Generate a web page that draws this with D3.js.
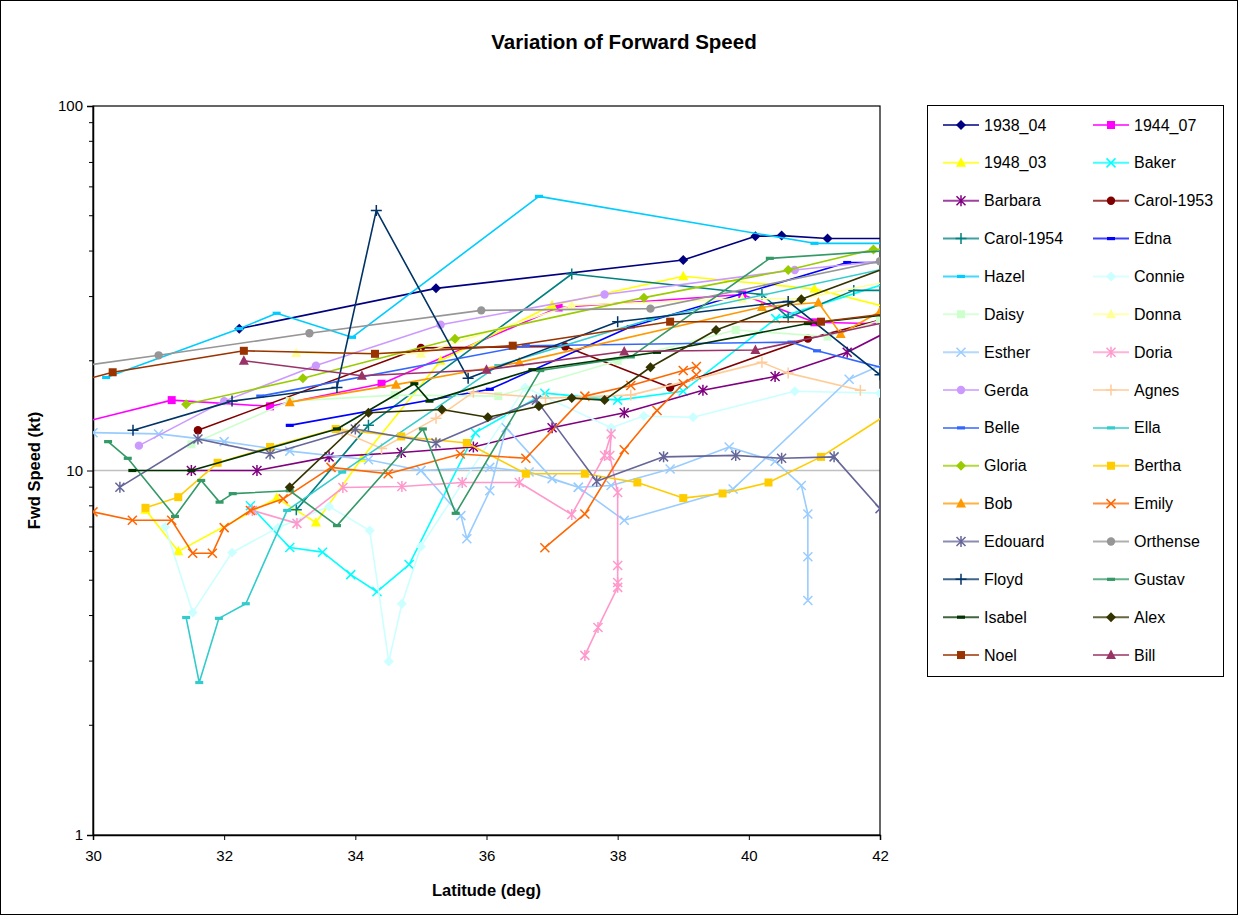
<!DOCTYPE html>
<html>
<head>
<meta charset="utf-8">
<script src="https://cdn.jsdelivr.net/npm/d3@7"></script>
<style>
  body { margin: 0; background: #fff; }
  svg { display: block; font-family: Arial, "Liberation Sans", sans-serif; }
</style>
</head>
<body>
<svg id="chart" width="1238" height="915"></svg>
<script>
// Axis ticks
const latTicks = [30, 32, 34, 36, 38, 40, 42];
const speedTicks = [1, 10, 100];

// Storm names, in plotting / legend order
const stormNames = ["1938_04", "1944_07", "1948_03", "Baker", "Barbara", "Carol-1953",
  "Carol-1954", "Edna", "Hazel", "Connie", "Daisy", "Donna", "Esther", "Doria", "Gerda",
  "Agnes", "Belle", "Ella", "Gloria", "Bertha", "Bob", "Emily", "Edouard", "Orthense",
  "Floyd", "Gustav", "Isabel", "Alex", "Noel", "Bill"];

// [latitude (deg), forward speed (kt)]; null breaks the line
const s1938_04 = [[32.23, 24.5], [35.23, 31.6], [39.0, 37.8], [40.1, 43.9], [40.5, 44.1], [41.2, 43.3], [42.5, 43.3]];
const s1944_07 = [[29.8, 13.5], [31.2, 15.6], [32.7, 15.0], [34.4, 17.3], [37.1, 28.0], [39.9, 30.4], [41.0, 25.5], [42.3, 25.2]];
const s1948_03 = [[30.8, 7.8], [31.3, 6.0], [32.8, 8.4], [33.4, 7.2], [34.1, 10.8], [35.3, 20.0], [37.0, 28.4], [39.0, 34.1], [41.0, 31.5], [42.3, 27.5]];
const sBaker = [[32.4, 8.0], [33.0, 6.15], [33.5, 5.97], [33.93, 5.18], [34.33, 4.65], [34.82, 5.52], [35.83, 12.7], [36.89, 16.3], [38.0, 15.6], [39.0, 16.5], [40.41, 26.1], [42.3, 33.5]];
const sBarbara = [[31.5, 10.0], [32.5, 10.0], [33.6, 10.9], [34.7, 11.2], [35.8, 11.6], [37.0, 13.1], [38.1, 14.4], [39.3, 16.6], [40.4, 18.1], [41.5, 21.1], [42.3, 25.0]];
const sCarol1953 = [[31.6, 12.9], [35.0, 21.7], [37.2, 21.9], [38.8, 16.9], [40.9, 23.0], [42.3, 26.7]];
const sCarol1954 = [[33.1, 7.8], [34.2, 13.3], [37.3, 34.6], [40.2, 30.4], [40.6, 26.3], [41.6, 31.2], [42.3, 31.2]];
const sEdna = [[33.0, 13.3], [36.05, 16.7], [38.2, 24.8], [41.5, 37.2], [42.3, 37.2]];
const sHazel = [[30.2, 18.0], [32.23, 24.5], [32.8, 27.0], [33.95, 23.2], [36.8, 56.5], [41.0, 42.0], [42.3, 42.0]];
const sConnie = [[31.1, 7.0], [31.52, 4.08], [32.12, 5.96], [32.82, 6.97], [33.6, 7.97], [34.22, 6.84], [34.51, 2.99], [34.71, 4.31], [35.0, 6.19], [36.59, 16.9], [37.9, 13.1], [38.4, 14.1], [39.15, 14.0], [40.7, 16.5], [42.0, 16.3]];
const sDaisy = [[31.5, 11.8], [33.0, 15.5], [34.6, 16.1], [36.18, 16.0], [38.0, 20.0], [39.8, 24.3], [41.2, 23.3], [42.0, 25.8]];
const sDonna = [[33.1, 21.0], [35.0, 20.9], [37.3, 28.4], [39.9, 29.6], [40.8, 29.6], [42.3, 33.5]];
const sEsther = [[30.0, 12.7], [31.0, 12.6], [32.0, 12.0], [33.0, 11.3], [34.2, 10.7], [35.0, 10.0], [35.61, 7.52], [35.7, 6.5], [36.05, 8.8], [36.3, 13.1], [37.0, 9.5], [37.4, 9.0], [37.9, 9.1], [38.8, 10.1], [39.7, 11.6], [40.4, 10.6], [40.8, 9.1], [40.9, 7.6], [40.9, 5.8], [40.9, 4.4], null,
  [35.0, 10.0], [36.05, 10.2], [36.65, 9.9], [37.4, 9.0], [38.1, 7.3], [39.76, 8.9], [41.53, 17.8], [42.3, 20.5]];
const sDoria = [[32.43, 7.77], [33.11, 7.16], [33.81, 8.98], [34.71, 9.04], [35.63, 9.27], [36.5, 9.27], [37.3, 7.57], [37.8, 11.0], [37.9, 12.6], [37.88, 11.0], [38.0, 8.7], [38.0, 5.49], [38.0, 4.93], [38.0, 4.78], [37.7, 3.71], [37.5, 3.11]];
const sGerda = [[30.7, 11.7], [32.0, 15.5], [33.4, 19.4], [35.3, 25.1], [37.8, 30.4], [40.7, 35.5], [42.3, 38.0]];
const sAgnes = [[33.8, 12.8], [34.4, 11.5], [35.23, 13.9], [35.8, 16.4], [36.9, 15.8], [38.2, 16.1], [40.2, 19.8], [40.6, 18.5], [41.7, 16.6]];
const sBelle = [[32.55, 16.0], [36.6, 22.0], [40.65, 22.5], [41.04, 21.3], [42.1, 19.0]];
const sElla = [[31.42, 3.95], [31.62, 2.62], [31.92, 3.93], [32.33, 4.31], [32.96, 7.77], [33.8, 9.9], [36.18, 19.4], [38.5, 26.0], [42.3, 36.5]];
const sGloria = [[31.42, 15.2], [33.2, 17.9], [35.52, 23.0], [38.4, 29.8], [40.6, 35.5], [41.9, 40.4], [42.3, 40.6]];
const sBertha = [[30.8, 7.9], [31.3, 8.45], [31.9, 10.5], [32.7, 11.6], [33.7, 13.0], [34.7, 12.4], [35.7, 11.9], [36.6, 9.8], [37.5, 9.8], [38.3, 9.27], [39.0, 8.4], [39.6, 8.65], [40.3, 9.27], [41.1, 10.9], [42.3, 15.0]];
const sBob = [[33.0, 15.4], [34.62, 17.2], [36.5, 19.8], [40.2, 28.1], [41.06, 28.9], [41.4, 23.7], [42.0, 27.3]];
const sEmily = [[30.0, 7.7], [30.6, 7.3], [31.2, 7.3], [31.52, 5.93], [31.82, 5.93], [32.0, 6.97], [32.4, 7.77], [32.9, 8.36], [33.63, 10.2], [34.5, 9.8], [35.6, 11.1], [36.6, 10.8], [37.5, 16.0], [38.2, 17.1], [39.0, 18.8], [39.2, 19.3], null,
  [36.89, 6.14], [37.5, 7.6], [38.1, 11.4], [38.6, 14.6], [39.0, 17.3], [39.2, 18.3]];
const sEdouard = [[30.41, 9.0], [31.6, 12.2], [32.7, 11.1], [34.0, 13.0], [35.23, 11.9], [36.76, 15.6], [37.68, 9.34], [38.7, 10.9], [39.8, 11.0], [40.5, 10.8], [41.3, 10.9], [42.0, 7.86], [42.3, 7.0]];
const sOrthense = [[29.5, 19.0], [31.0, 20.7], [33.3, 23.8], [35.92, 27.5], [38.5, 27.8], [42.0, 37.5]];
const sFloyd = [[30.61, 12.9], [32.12, 15.5], [33.72, 16.9], [34.32, 51.7], [35.72, 17.9], [38.0, 25.6], [40.6, 29.1], [42.0, 18.3]];
const sGustav = [[30.23, 12.0], [30.53, 10.8], [31.25, 7.48], [31.65, 9.39], [31.93, 8.19], [32.13, 8.64], [33.0, 8.8], [33.72, 7.06], [35.03, 13.0], [35.53, 7.63], [36.82, 18.8], [38.2, 20.5], [40.32, 38.2], [42.3, 40.3]];
const sIsabel = [[30.6, 10.0], [31.5, 10.0], [33.72, 13.0], [34.9, 17.3], [35.13, 15.5], [36.7, 18.9], [38.6, 21.1], [40.9, 25.3], [42.3, 27.0]];
const sAlex = [[33.0, 8.99], [34.2, 14.4], [35.32, 14.7], [36.02, 14.0], [36.8, 15.0], [37.3, 15.8], [37.8, 15.6], [38.5, 19.2], [39.5, 24.3], [40.8, 29.5], [42.1, 36.0]];
const sNoel = [[29.8, 17.6], [30.3, 18.6], [32.3, 21.3], [34.3, 20.9], [36.4, 22.0], [38.8, 25.6], [41.1, 25.6], [42.3, 27.2]];
const sBill = [[32.3, 20.0], [34.1, 18.2], [36.0, 18.9], [38.1, 21.2], [40.1, 21.4], [42.3, 26.0]];

const stormData = [s1938_04, s1944_07, s1948_03, sBaker, sBarbara, sCarol1953, sCarol1954, sEdna,
  sHazel, sConnie, sDaisy, sDonna, sEsther, sDoria, sGerda, sAgnes, sBelle, sElla, sGloria,
  sBertha, sBob, sEmily, sEdouard, sOrthense, sFloyd, sGustav, sIsabel, sAlex, sNoel, sBill];

// Line colour and marker shape per storm
const stormColors = ["#000080", "#FF00FF", "#FFFF00", "#00FFFF", "#800080", "#800000",
  "#008080", "#0000FF", "#00CCFF", "#CCFFFF", "#CCFFCC", "#FFFF99", "#99CCFF", "#FF99CC",
  "#CC99FF", "#FFCC99", "#3366FF", "#33CCCC", "#99CC00", "#FFCC00", "#FF9900", "#FF6600",
  "#666699", "#969696", "#003366", "#339966", "#003300", "#333300", "#993300", "#993366"];
const stormMarkers = ["diamond", "square", "triangle", "x", "star", "circle",
  "plus", "dash", "dash", "diamond", "square", "triangle", "x", "star",
  "circle", "plus", "dash", "dash", "diamond", "square", "triangle", "x",
  "star", "circle", "plus", "dash", "dash", "diamond", "square", "triangle"];

const svg = d3.select("#chart");
const W = 1238, H = 915;
const plot = { left: 93, right: 880, top: 106, bottom: 835 };
const FONT = "Arial, 'Liberation Sans', sans-serif";

svg.append("rect").attr("x", 0.5).attr("y", 0.5).attr("width", W - 1).attr("height", H - 1)
  .attr("fill", "#fff").attr("stroke", "#000").attr("stroke-width", 1);

const x = d3.scaleLinear().domain([30, 42]).range([plot.left, plot.right]);
const y = d3.scaleLog().domain([1, 100]).range([plot.bottom, plot.top]);

// Title
svg.append("text").attr("x", 624).attr("y", 49).attr("text-anchor", "middle")
  .attr("font-size", 20.5).attr("font-weight", "bold").text("Variation of Forward Speed");

// Gridline at 10 kt
svg.append("line").attr("x1", plot.left).attr("x2", plot.right)
  .attr("y1", y(10)).attr("y2", y(10)).attr("stroke", "#c0c0c0").attr("stroke-width", 1.5);

// Plot frame
svg.append("rect").attr("x", plot.left).attr("y", plot.top)
  .attr("width", plot.right - plot.left).attr("height", plot.bottom - plot.top)
  .attr("fill", "none").attr("stroke", "#000").attr("stroke-width", 1.2);

// Y axis (log) with minor ticks
const minorTicks = [];
for (const dec of [1, 10]) for (let k = 2; k <= 9; k++) minorTicks.push(dec * k);
const yAxis = d3.axisLeft(y).tickValues(speedTicks).tickFormat(d3.format("d")).tickSize(6).tickPadding(4);
const yg = svg.append("g").attr("transform", `translate(${plot.left},0)`).call(yAxis);
yg.selectAll(".tick text").attr("font-size", 15).attr("font-family", FONT).attr("fill", "#000");
yg.select(".domain").attr("stroke", "#000").attr("stroke-width", 1.5);
yg.selectAll(".tick line").attr("stroke", "#000");
svg.append("g").selectAll("line").data(minorTicks).join("line")
  .attr("x1", plot.left - 4).attr("x2", plot.left)
  .attr("y1", d => y(d)).attr("y2", d => y(d)).attr("stroke", "#000");

// X axis
const xAxis = d3.axisBottom(x).tickValues(latTicks).tickSize(5).tickPadding(10);
const xg = svg.append("g").attr("transform", `translate(0,${plot.bottom})`).call(xAxis);
xg.selectAll(".tick text").attr("font-size", 15).attr("font-family", FONT).attr("fill", "#000");
xg.select(".domain").attr("stroke", "#000").attr("stroke-width", 1.5);
xg.selectAll(".tick line").attr("stroke", "#000");

// Axis titles
svg.append("text").attr("transform", `translate(40,${(plot.top + plot.bottom) / 2}) rotate(-90)`)
  .attr("text-anchor", "middle").attr("font-size", 16.5).attr("font-weight", "bold").text("Fwd Speed (kt)");
svg.append("text").attr("x", (plot.left + plot.right) / 2).attr("y", 896)
  .attr("text-anchor", "middle").attr("font-size", 16.5).attr("font-weight", "bold").text("Latitude (deg)");

// Marker painter
function drawMarker(g, type, color, cx, cy) {
  const m = g.append("g").attr("transform", `translate(${cx},${cy})`);
  switch (type) {
    case "diamond":
      m.append("path").attr("d", "M0,-5L5,0L0,5L-5,0Z").attr("fill", color); break;
    case "square":
      m.append("rect").attr("x", -4).attr("y", -4).attr("width", 8).attr("height", 8).attr("fill", color); break;
    case "triangle":
      m.append("path").attr("d", "M0,-5.5L5,4L-5,4Z").attr("fill", color); break;
    case "circle":
      m.append("circle").attr("r", 4.2).attr("fill", color); break;
    case "x":
      m.append("path").attr("d", "M-4.5,-4.5L4.5,4.5M-4.5,4.5L4.5,-4.5").attr("stroke", color).attr("stroke-width", 1.5); break;
    case "star":
      m.append("path").attr("d", "M-4.5,-4.5L4.5,4.5M-4.5,4.5L4.5,-4.5M0,-5.5L0,5.5").attr("stroke", color).attr("stroke-width", 1.5); break;
    case "plus":
      m.append("path").attr("d", "M-5.5,0L5.5,0M0,-5.5L0,5.5").attr("stroke", color).attr("stroke-width", 1.5); break;
    case "dash":
      m.append("rect").attr("x", -4).attr("y", -1.6).attr("width", 8).attr("height", 3.2).attr("fill", color); break;
  }
}

// Series
svg.append("clipPath").attr("id", "plotClip").append("rect")
  .attr("x", plot.left).attr("y", plot.top)
  .attr("width", plot.right - plot.left).attr("height", plot.bottom - plot.top);
const series = svg.append("g").attr("clip-path", "url(#plotClip)");
const line = d3.line().defined(d => d !== null).x(d => x(d[0])).y(d => y(d[1]));

stormNames.forEach((name, i) => {
  const g = series.append("g").attr("class", "storm");
  const pts = stormData[i];
  g.append("path").attr("d", line(pts)).attr("fill", "none")
    .attr("stroke", stormColors[i]).attr("stroke-width", 1.6).attr("stroke-linejoin", "round");
  pts.filter(d => d !== null).forEach(d => drawMarker(g, stormMarkers[i], stormColors[i], x(d[0]), y(d[1])));
});

// Legend
const leg = svg.append("g");
leg.append("rect").attr("x", 927.5).attr("y", 105.5).attr("width", 296).attr("height", 571)
  .attr("fill", "#fff").attr("stroke", "#000").attr("stroke-width", 1);
stormNames.forEach((name, i) => {
  const col = i % 2, row = Math.floor(i / 2);
  const lx = 943 + col * 150, ly = 125 + row * 37.86;
  leg.append("line").attr("x1", lx).attr("x2", lx + 36).attr("y1", ly).attr("y2", ly)
    .attr("stroke", stormColors[i]).attr("stroke-width", 2).attr("stroke-opacity", 0.75);
  drawMarker(leg, stormMarkers[i], stormColors[i], lx + 18, ly);
  leg.append("text").attr("x", lx + 41).attr("y", ly + 5.5).attr("font-size", 16).text(name);
});
</script>
</body>
</html>
